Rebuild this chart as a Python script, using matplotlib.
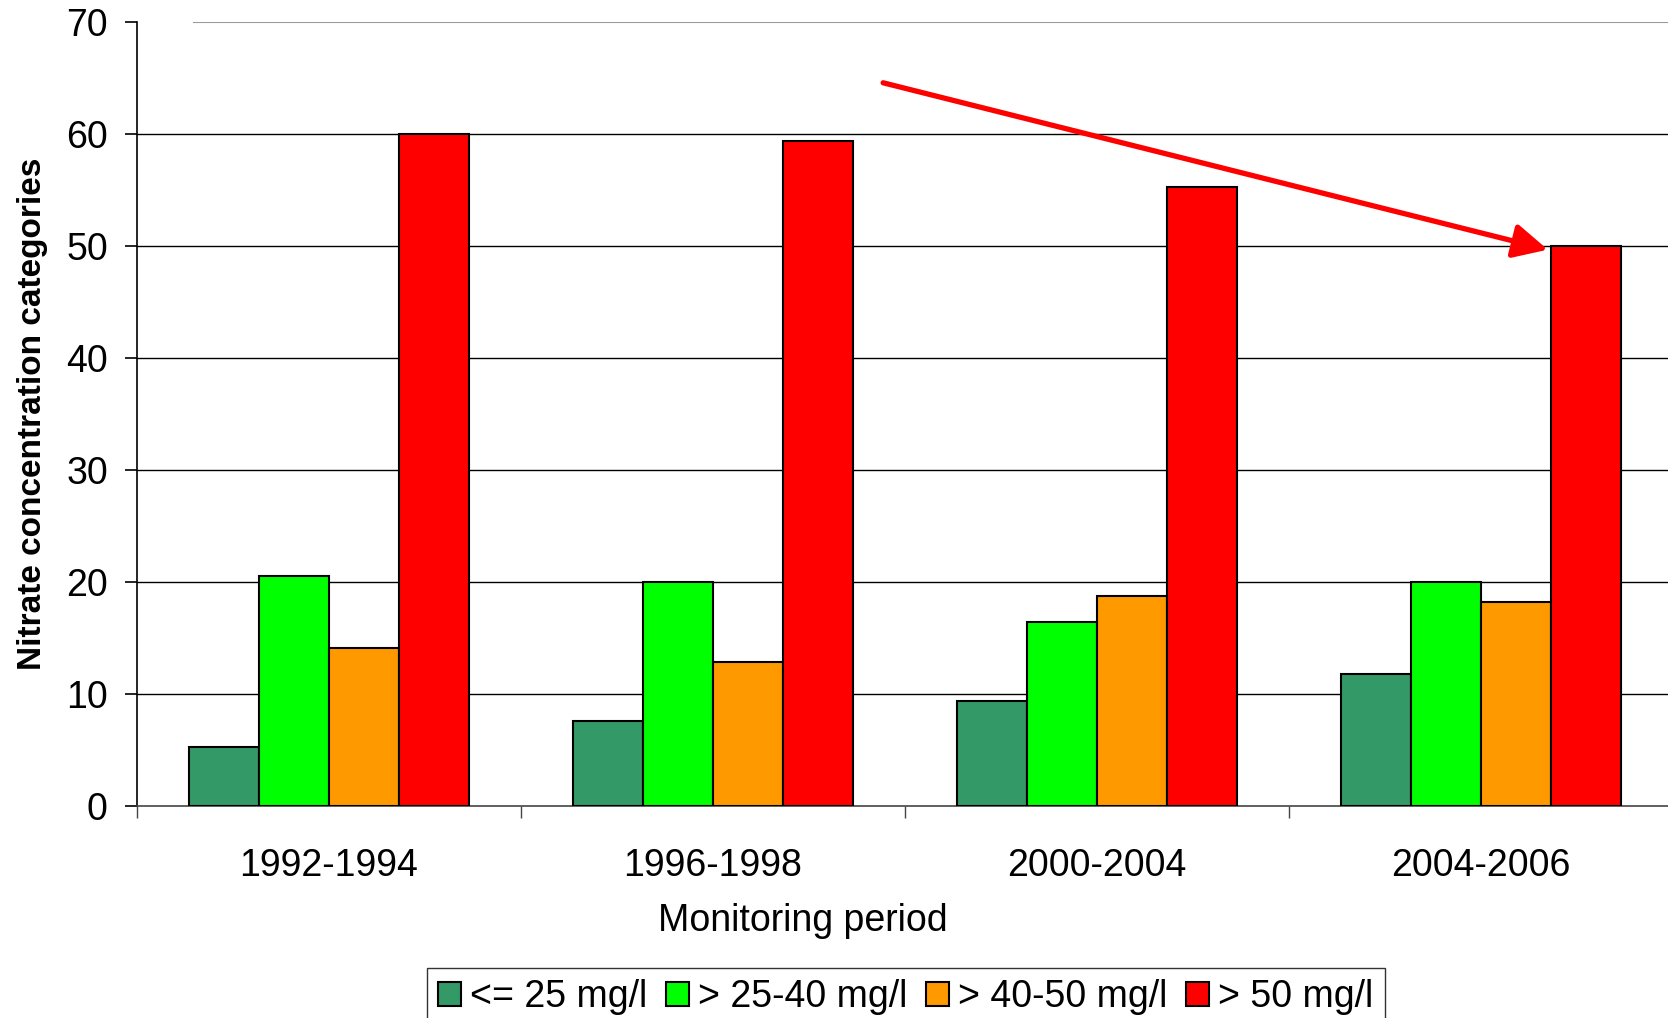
import matplotlib
matplotlib.use("Agg")
import matplotlib.pyplot as plt
import numpy as np

periods = ["1992-1994", "1996-1998", "2000-2004", "2004-2006"]
series_labels = ["<= 25 mg/l", "> 25-40 mg/l", "> 40-50 mg/l", "> 50 mg/l"]
le25 = [5.3, 7.6, 9.4, 11.8]
g25_40 = [20.6, 20.0, 16.5, 20.0]
g40_50 = [14.1, 12.9, 18.8, 18.2]
g50 = [60.0, 59.4, 55.3, 50.0]
colors = ["#339966", "#00FF00", "#FF9900", "#FF0000"]
yticks = [0, 10, 20, 30, 40, 50, 60, 70]

plt.rcParams['font.family'] = ['Liberation Sans', 'DejaVu Sans']

fig = plt.figure(figsize=(16.68, 10.18), dpi=100)
ax = fig.add_axes([137/1668, 211.7/1018, 1536/1668, 784/1018])

x = np.arange(len(periods))
w = 70/384
data = [le25, g25_40, g40_50, g50]
for i, (vals, c, lab) in enumerate(zip(data, colors, series_labels)):
    ax.bar(x + (i - 1.5) * w, vals, w, color=c, edgecolor="black",
           linewidth=1.5, label=lab, zorder=3)

ax.set_xlim(-0.5, 3.5)
ax.set_ylim(0, 70)
ax.set_yticks(yticks)
for v in yticks[1:-1]:
    ax.axhline(v, color="black", lw=1.0, zorder=1)
ax.axhline(70, xmin=(194-137)/1536, xmax=1, color="#999999", lw=1.5, zorder=1)

ax.spines['top'].set_visible(False)
ax.spines['right'].set_visible(False)
ax.spines['left'].set_linewidth(1.2)
ax.spines['bottom'].set_linewidth(1.2)
ax.spines['bottom'].set_color("#444444")

ax.set_xticks(x)
ax.set_xticklabels(periods)
ax.set_xticks(np.arange(-0.5, 4.0, 1.0), minor=True)
ax.tick_params(axis='x', which='major', length=0, labelsize=27, pad=30)
ax.tick_params(axis='x', which='minor', length=8.4, width=1, color="#444444")
ax.tick_params(axis='y', length=9, width=1.2, labelsize=27, pad=12)

ax.set_xlabel("Monitoring period", fontsize=27)
ax.xaxis.set_label_coords((803-137)/1536, -0.1464)
ax.set_ylabel("Nitrate concentration categories", fontsize=24, fontweight="bold")
ax.yaxis.set_label_coords((33-137)/1536, 0.5)
ax.xaxis.label.set_verticalalignment('center')
ax.yaxis.label.set_verticalalignment('center')

ax.annotate("", xy=(3.174, 49.7), xytext=(1.443, 64.6),
            arrowprops=dict(arrowstyle="-|>,head_length=0.52,head_width=0.26",
                            color="#FF0000", lw=3.8, mutation_scale=40,
                            shrinkA=0, shrinkB=0), zorder=5)

leg = fig.legend(loc="upper center", bbox_to_anchor=(906/1668, 1 - 968/1018),
                 ncol=4, fontsize=27, frameon=True, fancybox=False,
                 handlelength=0.6, handleheight=0.6, handletextpad=0.25,
                 columnspacing=0.5, borderpad=0.3, borderaxespad=0)
leg.get_frame().set_edgecolor("black")
leg.get_frame().set_linewidth(1.0)

fig.savefig("out.png", dpi=100)
